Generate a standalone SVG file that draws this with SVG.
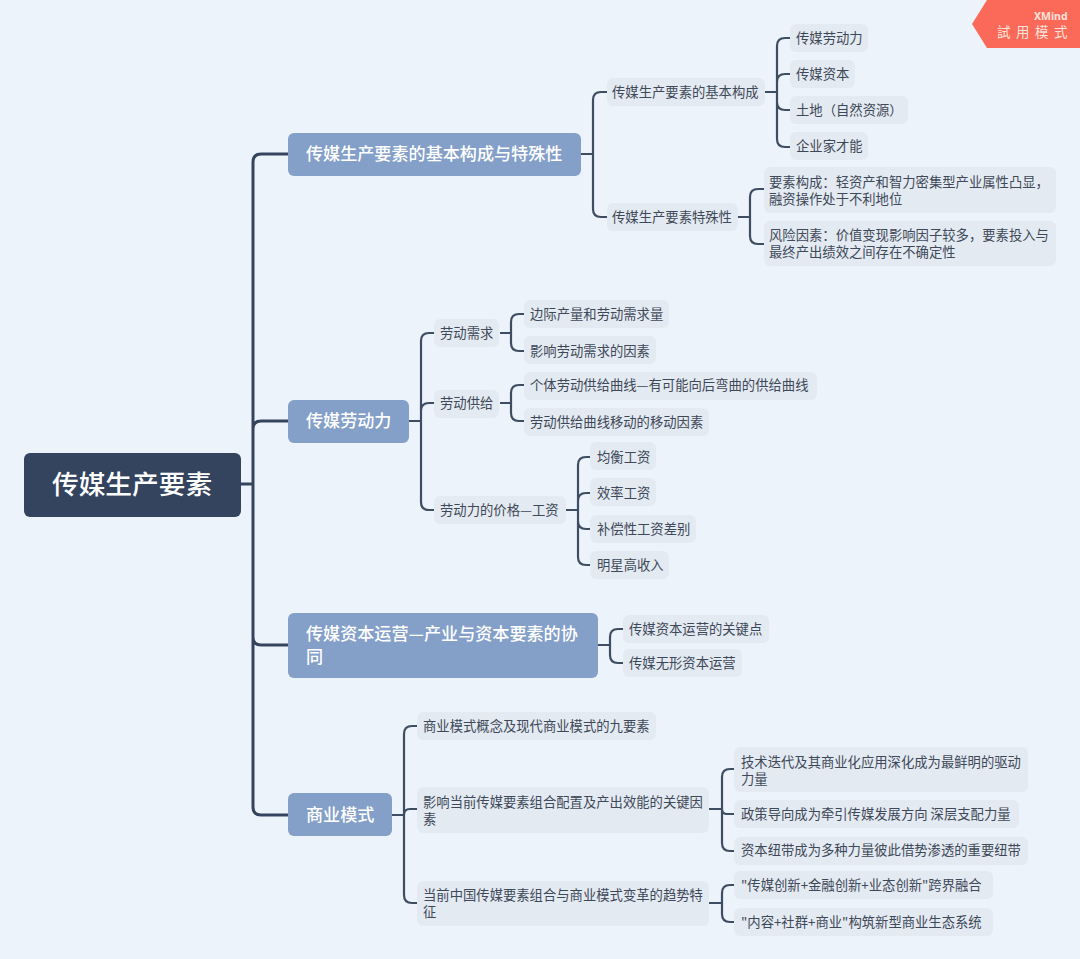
<svg xmlns="http://www.w3.org/2000/svg" width="1080" height="959" viewBox="0 0 1080 959">
<style>
text{font-family:"Noto Sans CJK SC","Noto Sans",sans-serif}
.n rect{fill:#e4eaf1}
.n text{fill:#3d4858;font-size:13.33px}
.t rect{fill:#84a0c8}
.t text{fill:#fff;font-size:17.1px;font-weight:500}
.r rect{fill:#34445f}
.r text{fill:#fff;font-size:26.7px;font-weight:500}
.c path{fill:none;stroke:#3f4d63;stroke-width:2.2}
.c path.m{stroke:#34445f;stroke-width:3}
</style>
<rect width="1080" height="959" fill="#ecf3fb"/>
<g id="connectors" class="c">
<path class="m" d="M241 484H253M288 154H261Q253 154 253 162V807Q253 815 261 815H288M253 429Q253 421 261 421H288M253 637Q253 645 261 645H288"/>
<path d="M581 154H593M607 92H601Q593 92 593 100V209Q593 217 601 217H607"/>
<path d="M765 92H777M790 38H785Q777 38 777 46V139Q777 147 785 147H790M777 82Q777 74 785 74H790M777 102Q777 110 785 110H790"/>
<path d="M738 217H750M764 189H758Q750 189 750 197V236Q750 244 758 244H764"/>
<path d="M409 421H421M434 333H429Q421 333 421 341V502Q421 510 429 510H434M421 411Q421 403 429 403H434"/>
<path d="M500 333H511M524 314H519Q511 314 511 322V343Q511 351 519 351H524"/>
<path d="M500 403H511M524 385H519Q511 385 511 393V413Q511 421 519 421H524"/>
<path d="M566 510H578M590 457H586Q578 457 578 465V557Q578 565 586 565H590M578 501Q578 493 586 493H590M578 521Q578 529 586 529H590"/>
<path d="M598 645H610M623 629H618Q610 629 610 637V655Q610 663 618 663H623"/>
<path d="M392 815H404M417 726H412Q404 726 404 734V895Q404 903 412 903H417M404 815Q404 809 410 809H417"/>
<path d="M709 809H722M734 769H730Q722 769 722 777V843Q722 851 730 851H734M722 809Q722 814 727 814H734"/>
<path d="M709 903H722M734 885H730Q722 885 722 893V914Q722 922 730 922H734"/>
</g>
<g id="root" class="r"><rect x="24" y="453" width="217" height="64" rx="6"/><text x="52" y="494">传媒生产要素</text></g>
<g id="t1" class="t"><rect x="288" y="133" width="293" height="43" rx="6"/><text x="306" y="160">传媒生产要素的基本构成与特殊性</text></g>
<g id="t2" class="t"><rect x="288" y="400" width="121" height="43" rx="6"/><text x="306" y="427">传媒劳动力</text></g>
<g id="t3" class="t"><rect x="288" y="613" width="310" height="65" rx="6"/><text x="306" y="640">传媒资本运营—产业与资本要素的协</text><text x="306" y="663">同</text></g>
<g id="t4" class="t"><rect x="288" y="793" width="104" height="43" rx="6"/><text x="306" y="821">商业模式</text></g>
<g id="a1" class="n"><rect x="607" y="78" width="158" height="28" rx="6"/><text x="612" y="97">传媒生产要素的基本构成</text></g>
<g id="a2" class="n"><rect x="607" y="203" width="131" height="28" rx="6"/><text x="612" y="222">传媒生产要素特殊性</text></g>
<g id="a11" class="n"><rect x="790" y="24" width="78" height="28" rx="6"/><text x="796" y="43">传媒劳动力</text></g>
<g id="a12" class="n"><rect x="790" y="60" width="65" height="28" rx="6"/><text x="796" y="79">传媒资本</text></g>
<g id="a13" class="n"><rect x="790" y="96" width="118" height="28" rx="6"/><text x="796" y="115">土地（自然资源）</text></g>
<g id="a14" class="n"><rect x="790" y="132" width="78" height="28" rx="6"/><text x="796" y="151">企业家才能</text></g>
<g id="a21" class="n"><rect x="764" y="167" width="292" height="46" rx="6"/><text x="769" y="187">要素构成：轻资产和智力密集型产业属性凸显，</text><text x="769" y="204">融资操作处于不利地位</text></g>
<g id="a22" class="n"><rect x="764" y="221" width="292" height="45" rx="6"/><text x="769" y="240">风险因素：价值变现影响因子较多，要素投入与</text><text x="769" y="257">最终产出绩效之间存在不确定性</text></g>
<g id="b1" class="n"><rect x="434" y="319" width="65" height="28" rx="6"/><text x="440" y="338">劳动需求</text></g>
<g id="b2" class="n"><rect x="434" y="390" width="65" height="28" rx="6"/><text x="440" y="408">劳动供给</text></g>
<g id="b3" class="n"><rect x="434" y="496" width="132" height="28" rx="6"/><text x="440" y="515">劳动力的价格—工资</text></g>
<g id="b11" class="n"><rect x="524" y="300" width="145" height="28" rx="6"/><text x="530" y="319">边际产量和劳动需求量</text></g>
<g id="b12" class="n"><rect x="524" y="336" width="132" height="28" rx="6"/><text x="530" y="356">影响劳动需求的因素</text></g>
<g id="b21" class="n"><rect x="524" y="372" width="293" height="28" rx="6"/><text x="530" y="390">个体劳动供给曲线—有可能向后弯曲的供给曲线</text></g>
<g id="b22" class="n"><rect x="524" y="408" width="185" height="28" rx="6"/><text x="530" y="427">劳动供给曲线移动的移动因素</text></g>
<g id="b31" class="n"><rect x="590" y="442" width="66" height="28" rx="6"/><text x="597" y="462">均衡工资</text></g>
<g id="b32" class="n"><rect x="590" y="478" width="66" height="28" rx="6"/><text x="597" y="498">效率工资</text></g>
<g id="b33" class="n"><rect x="590" y="515" width="106" height="28" rx="6"/><text x="597" y="534">补偿性工资差别</text></g>
<g id="b34" class="n"><rect x="590" y="551" width="79" height="28" rx="6"/><text x="597" y="570">明星高收入</text></g>
<g id="c1" class="n"><rect x="623" y="615" width="146" height="28" rx="6"/><text x="629" y="634">传媒资本运营的关键点</text></g>
<g id="c2" class="n"><rect x="623" y="649" width="119" height="28" rx="6"/><text x="629" y="668">传媒无形资本运营</text></g>
<g id="d1" class="n"><rect x="417" y="712" width="239" height="28" rx="6"/><text x="423" y="731">商业模式概念及现代商业模式的九要素</text></g>
<g id="d2" class="n"><rect x="417" y="787" width="292" height="46" rx="6"/><text x="423" y="807">影响当前传媒要素组合配置及产出效能的关键因</text><text x="423" y="824">素</text></g>
<g id="d3" class="n"><rect x="417" y="881" width="292" height="45" rx="6"/><text x="423" y="900">当前中国传媒要素组合与商业模式变革的趋势特</text><text x="423" y="917">征</text></g>
<g id="d21" class="n"><rect x="734" y="747" width="294" height="45" rx="6"/><text x="741" y="767">技术迭代及其商业化应用深化成为最鲜明的驱动</text><text x="741" y="784">力量</text></g>
<g id="d22" class="n"><rect x="734" y="800" width="285" height="28" rx="6"/><text x="741" y="819">政策导向成为牵引传媒发展方向 深层支配力量</text></g>
<g id="d23" class="n"><rect x="734" y="837" width="294" height="28" rx="6"/><text x="741" y="855">资本纽带成为多种力量彼此借势渗透的重要纽带</text></g>
<g id="d31" class="n"><rect x="734" y="871" width="259" height="28" rx="6"/><text x="741" y="890">"传媒创新+金融创新+业态创新"跨界融合</text></g>
<g id="d32" class="n"><rect x="734" y="908" width="259" height="28" rx="6"/><text x="741" y="927">"内容+社群+商业"构筑新型商业生态系统</text></g>
<g id="badge"><path d="M987 0H1080V48H987L972 24Z" fill="#fb6a58"/><text x="1034" y="20" fill="#fde3dd" font-size="10.5" font-weight="700" style="font-family:'Noto Sans',sans-serif">XMind</text><text x="997" y="37" fill="#fde3dd" font-size="13.5" letter-spacing="5.5">試用模式</text></g>
</svg>
